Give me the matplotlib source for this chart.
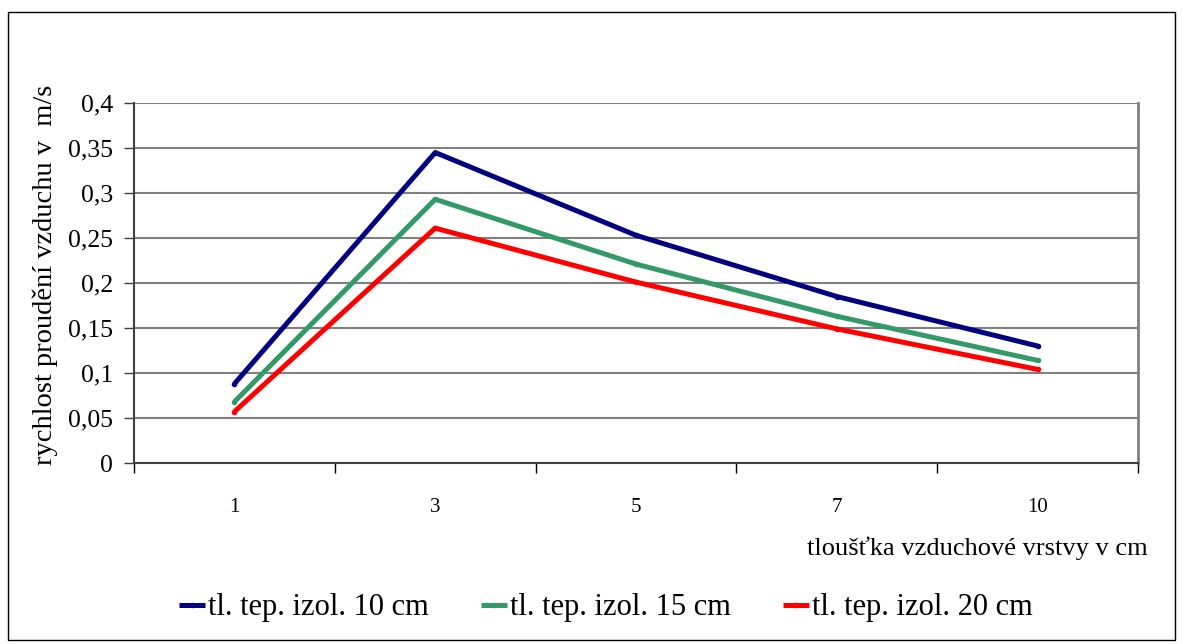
import matplotlib
matplotlib.use("Agg")
import matplotlib.pyplot as plt
from matplotlib.patches import Rectangle

# tloušťka vzduchové vrstvy (cm)
categories = ['1', '3', '5', '7', '10']
izol_10 = [0.088, 0.345, 0.253, 0.185, 0.130]
izol_15 = [0.068, 0.293, 0.221, 0.163, 0.114]
izol_20 = [0.057, 0.261, 0.201, 0.149, 0.104]
series_names = ['tl. tep. izol. 10 cm', 'tl. tep. izol. 15 cm', 'tl. tep. izol. 20 cm']
y_ticks = [0, 0.05, 0.1, 0.15, 0.2, 0.25, 0.3, 0.35, 0.4]

plt.rcParams['font.family'] = ['Liberation Serif', 'DejaVu Serif']

fig = plt.figure(figsize=(11.83, 6.44), dpi=100)
# outer chart frame
fig.patches.append(Rectangle((8 / 1183, 1 - 640 / 644), 1167 / 1183, 628 / 644,
                             transform=fig.transFigure, fill=False,
                             edgecolor='black', linewidth=1))

ax = fig.add_axes([134 / 1183, 1 - 463 / 644, 1004 / 1183, 360 / 644])

x = list(range(len(categories)))
colors = ['#000080', '#339966', '#ff0000']
for vals, name, c in zip([izol_10, izol_15, izol_20], series_names, colors):
    ax.plot(x, vals, color=c, linewidth=3.6, marker='o', markersize=3,
            solid_capstyle='butt', label=name)

ax.set_xlim(-0.5, len(categories) - 0.5)
ax.set_ylim(0, 0.4)
ax.set_yticks(y_ticks)
ax.set_yticklabels([('%g' % v).replace('.', ',') for v in y_ticks], fontsize=18.5)
ax.yaxis.grid(True, color='#808080', linewidth=1.5)
ax.set_axisbelow(True)
ax.tick_params(axis='y', direction='out', length=7, width=1, color='#404040', pad=8)

# category ticks at boundaries, labels in the middle
ax.set_xticks([i - 0.5 for i in range(len(categories) + 1)])
ax.set_xticklabels([])
ax.set_xticks(x, minor=True)
ax.set_xticklabels(categories, minor=True, fontsize=15)
ax.tick_params(axis='x', which='major', direction='out', length=7, width=1, color='black')
ax.tick_params(axis='x', which='minor', length=0, pad=25)

for s in ['left', 'bottom']:
    ax.spines[s].set_color('#404040')
    ax.spines[s].set_linewidth(1.5)
ax.spines['right'].set_color('#808080')
ax.spines['right'].set_linewidth(2)
ax.spines['top'].set_visible(False)

fig.text(1148 / 1183, 1 - 548 / 644, 'tloušťka vzduchové vrstvy v cm',
         ha='right', va='center', fontsize=19)
fig.text(45 / 1183, 1 - 275 / 644, 'rychlost proudění vzduchu v  m/s',
         ha='center', va='center', rotation=90, fontsize=20.5)

fig.legend(loc='center', bbox_to_anchor=(606 / 1183, 1 - 608 / 644), ncol=3,
           frameon=False, fontsize=22, handlelength=0.85, handletextpad=0.1,
           columnspacing=1.7)

fig.savefig('out.png', dpi=100)
